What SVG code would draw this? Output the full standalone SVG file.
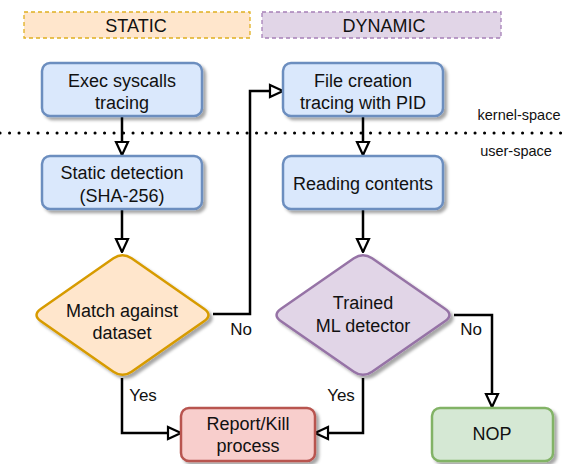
<svg xmlns="http://www.w3.org/2000/svg" width="564" height="464" viewBox="0 0 564 464">
<style>
text{font-family:"Liberation Sans",Arial,sans-serif;fill:#111;text-anchor:middle}
.h{font-size:18px}
.t{font-size:18px}
.l{font-size:17px}
.s{font-size:14.5px}
.blue{fill:#dae8fc;stroke:#6c8ebf;stroke-width:2.5}
.edge{fill:none;stroke:#000;stroke-width:2.5}
</style>
<defs>
<filter id="sh" x="-20%" y="-20%" width="150%" height="150%">
<feDropShadow dx="3" dy="3" stdDeviation="1.5" flood-color="#000" flood-opacity="0.35"/>
</filter>
<marker id="arr" viewBox="0 0 16 16" refX="15" refY="8" markerWidth="16" markerHeight="16" markerUnits="userSpaceOnUse" orient="auto">
<path d="M2,2 L15,8 L2,14 Z" fill="#fff" stroke="#000" stroke-width="2.2" stroke-linejoin="miter"/>
</marker>
</defs>
<rect width="564" height="464" fill="#fff"/>

<g id="hdr-static">
<rect x="24" y="12" width="226" height="26" fill="#ffe6cc" stroke="#e0b020" stroke-width="1.3" stroke-dasharray="4 3"/>
<text class="h" x="136" y="31.5">STATIC</text>
</g>
<g id="hdr-dynamic">
<rect x="262" y="12" width="239" height="26" fill="#e1d5e7" stroke="#a680b8" stroke-width="1.3" stroke-dasharray="4 3"/>
<text class="h" x="384" y="31.5">DYNAMIC</text>
</g>

<g id="sep">
<line x1="0" y1="133" x2="564" y2="133" stroke="#000" stroke-width="3" stroke-dasharray="0.1 9.4" stroke-linecap="round"/>
<text class="s" x="519" y="120">kernel-space</text>
<text class="s" x="516" y="156">user-space</text>
</g>

<g id="connectors">
<path class="edge" d="M122,117 V155" marker-end="url(#arr)"/>
<path class="edge" d="M122,210 V252" marker-end="url(#arr)"/>
<path class="edge" d="M213,314 H250 V91 H283" marker-end="url(#arr)"/>
<path class="edge" d="M122,378 V433 H181" marker-end="url(#arr)"/>
<path class="edge" d="M363,117 V155" marker-end="url(#arr)"/>
<path class="edge" d="M363,210 V252" marker-end="url(#arr)"/>
<path class="edge" d="M454,315 H492 V407" marker-end="url(#arr)"/>
<path class="edge" d="M363,378 V433 H315" marker-end="url(#arr)"/>
<text class="l" x="241" y="335">No</text>
<text class="l" x="143" y="401">Yes</text>
<text class="l" x="471" y="335">No</text>
<text class="l" x="341" y="401">Yes</text>
</g>

<g id="exec">
<rect class="blue" x="42" y="63" width="160" height="53" rx="8" filter="url(#sh)"/>
<text class="t" x="122" y="86.5">Exec syscalls</text>
<text class="t" x="122" y="109">tracing</text>
</g>
<g id="static-det">
<rect class="blue" x="42" y="156" width="160" height="53" rx="8" filter="url(#sh)"/>
<text class="t" x="122" y="178.5">Static detection</text>
<text class="t" x="122" y="201.5">(SHA-256)</text>
</g>
<g id="file-creation">
<rect class="blue" x="283" y="63" width="160" height="53" rx="8" filter="url(#sh)"/>
<text class="t" x="363" y="86.5">File creation</text>
<text class="t" x="363" y="109">tracing with PID</text>
</g>
<g id="reading">
<rect class="blue" x="283" y="156" width="160" height="53" rx="8" filter="url(#sh)"/>
<text class="t" x="363" y="189.5">Reading contents</text>
</g>
<g id="match">
<path d="M131.55,258.3 L203.95,308.7 Q213,315 203.95,321.3 L131.55,371.7 Q122.5,378 113.45,371.7 L41.05,321.3 Q32,315 41.05,308.7 L113.45,258.3 Q122.5,252 131.55,258.3 Z" fill="#ffe6cc" stroke="#d79b00" stroke-width="2.5" filter="url(#sh)"/>
<text class="t" x="122" y="316.5">Match against</text>
<text class="t" x="122" y="338.5">dataset</text>
</g>
<g id="ml">
<path d="M372.1,258.3 L444.9,308.7 Q454,315 444.9,321.3 L372.1,371.7 Q363,378 353.9,371.7 L281.1,321.3 Q272,315 281.1,308.7 L353.9,258.3 Q363,252 372.1,258.3 Z" fill="#e1d5e7" stroke="#9673a6" stroke-width="2.5" filter="url(#sh)"/>
<text class="t" x="363" y="308.5">Trained</text>
<text class="t" x="363" y="331.5">ML detector</text>
</g>
<g id="report">
<rect x="181" y="408" width="134" height="53" rx="8" fill="#f8cecc" stroke="#b85450" stroke-width="2.5" filter="url(#sh)"/>
<text class="t" x="248" y="429.5">Report/Kill</text>
<text class="t" x="248" y="451.5">process</text>
</g>
<g id="nop">
<rect x="432" y="408" width="121" height="53" rx="8" fill="#d5e8d4" stroke="#82b366" stroke-width="2.5" filter="url(#sh)"/>
<text class="t" x="492" y="439.5">NOP</text>
</g>
</svg>
